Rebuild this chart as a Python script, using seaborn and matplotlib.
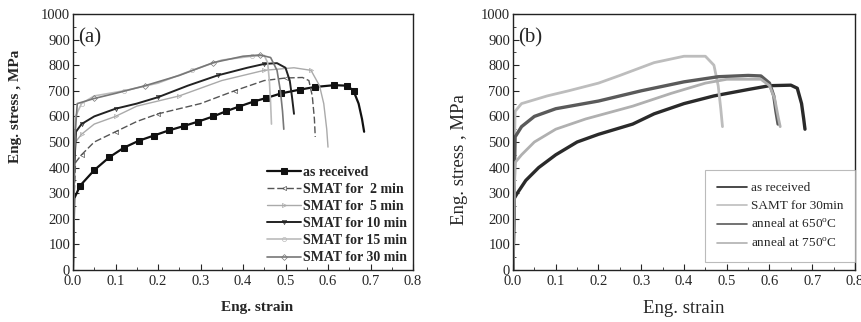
import matplotlib
matplotlib.use("Agg")
import matplotlib.pyplot as plt
import seaborn as sns
import pandas as pd
import numpy as np
from matplotlib.ticker import MultipleLocator

# ---------------- data ----------------
# Panel (a)
a_recv_x = [0.0, 0.003, 0.017, 0.05, 0.085, 0.12, 0.155, 0.19, 0.225, 0.26, 0.295, 0.33, 0.36, 0.39,
            0.425, 0.455, 0.49, 0.535, 0.57, 0.615, 0.645, 0.66, 0.672, 0.68, 0.685]
a_recv_y = [0, 280, 330, 390, 440, 478, 505, 525, 545, 562, 580, 600, 620, 638,
            658, 672, 690, 705, 715, 722, 720, 700, 650, 590, 540]

a_2_x = [0.0, 0.003, 0.006, 0.02, 0.05, 0.1, 0.15, 0.2, 0.3, 0.38, 0.45, 0.5, 0.54, 0.555, 0.563, 0.568, 0.57]
a_2_y = [0, 300, 420, 450, 500, 540, 580, 610, 650, 700, 740, 750, 752, 740, 680, 590, 520]

a_5_x = [0.0, 0.003, 0.006, 0.02, 0.05, 0.1, 0.15, 0.25, 0.35, 0.45, 0.52, 0.56, 0.58, 0.59, 0.597, 0.6]
a_5_y = [0, 350, 500, 530, 570, 600, 640, 680, 740, 780, 790, 780, 720, 650, 550, 480]

a_10_x = [0.0, 0.003, 0.007, 0.02, 0.05, 0.1, 0.15, 0.2, 0.27, 0.34, 0.41, 0.45, 0.48, 0.5, 0.51, 0.515, 0.52]
a_10_y = [0, 400, 540, 570, 600, 630, 650, 675, 720, 760, 790, 805, 808, 790, 740, 680, 610]

a_15_x = [0.0, 0.003, 0.006, 0.02, 0.05, 0.12, 0.2, 0.28, 0.35, 0.42, 0.45, 0.458, 0.462, 0.465, 0.467]
a_15_y = [0, 450, 600, 650, 680, 700, 730, 780, 820, 835, 838, 810, 740, 650, 570]

a_30_x = [0.0, 0.003, 0.01, 0.05, 0.1, 0.17, 0.25, 0.33, 0.4, 0.44, 0.465, 0.48, 0.488, 0.493, 0.496]
a_30_y = [0, 480, 650, 670, 690, 720, 760, 810, 835, 840, 830, 780, 700, 620, 550]

# Panel (b)
b_recv_x = [0.0, 0.003, 0.01, 0.03, 0.06, 0.1, 0.15, 0.2, 0.28, 0.33, 0.4, 0.47, 0.55, 0.6, 0.65, 0.665, 0.675, 0.68, 0.683]
b_recv_y = [0, 280, 300, 350, 400, 450, 500, 530, 570, 610, 650, 680, 705, 720, 722, 710, 650, 590, 550]

b_30_x = [0.0, 0.003, 0.005, 0.02, 0.08, 0.13, 0.2, 0.25, 0.33, 0.4, 0.45, 0.47, 0.48, 0.486, 0.49]
b_30_y = [0, 450, 620, 650, 680, 700, 730, 760, 810, 835, 835, 800, 720, 630, 560]

b_650_x = [0.0, 0.003, 0.005, 0.02, 0.05, 0.1, 0.2, 0.3, 0.4, 0.48, 0.55, 0.58, 0.6, 0.61, 0.615, 0.62]
b_650_y = [0, 350, 520, 560, 600, 630, 660, 700, 735, 755, 760, 758, 730, 680, 620, 570]

b_750_x = [0.0, 0.003, 0.005, 0.02, 0.05, 0.1, 0.17, 0.28, 0.37, 0.45, 0.5, 0.58, 0.6, 0.612, 0.62, 0.625]
b_750_y = [0, 300, 420, 450, 500, 550, 590, 640, 690, 730, 745, 745, 720, 670, 600, 560]

a_labels = ["as received", "SMAT for  2 min", "SMAT for  5 min", "SMAT for 10 min",
            "SMAT for 15 min", "SMAT for 30 min"]
b_labels = ["as received", "SAMT for 30min", "anneal at 650$^{\\rm o}$C", "anneal at 750$^{\\rm o}$C"]

x_ticks = [0.0, 0.1, 0.2, 0.3, 0.4, 0.5, 0.6, 0.7, 0.8]
y_ticks = [0, 100, 200, 300, 400, 500, 600, 700, 800, 900, 1000]

# ---------------- styling ----------------
sns.set_style("ticks")
plt.rcParams["font.family"] = ["Liberation Serif", "DejaVu Serif"]
plt.rcParams["mathtext.fontset"] = "custom"
plt.rcParams["mathtext.rm"] = "Liberation Serif"

fig = plt.figure(figsize=(8.62, 3.22), dpi=100)
ax_a = fig.add_axes([73/862, 1-270/322, 340/862, 256/322])
ax_b = fig.add_axes([513/862, 1-270/322, 342/862, 256/322])

a_series = [(a_recv_x, a_recv_y), (a_2_x, a_2_y), (a_5_x, a_5_y),
            (a_10_x, a_10_y), (a_15_x, a_15_y), (a_30_x, a_30_y)]
a_colors = ["#111111", "#555555", "#aaaaaa", "#222222", "#bbbbbb", "#777777"]
a_widths = [1.6, 1.0, 1.0, 1.4, 1.2, 1.2]
a_markers = ["s", "<", ">", "v", "o", "D"]
a_ls = ["-", (0, (5, 2)), "-", "-", "-", "-"]

for (xs, ys), lab, c, w, m, ls in zip(a_series, a_labels, a_colors, a_widths, a_markers, a_ls):
    df = pd.DataFrame({"x": xs, "y": ys})
    if m == "s":
        mk = dict(marker="s", markersize=4, markevery=list(range(2, len(xs) - 3)),
                  markerfacecolor=c, markeredgecolor=c)
    else:
        mk = dict(marker=m, markersize=3, markevery=list(range(3, len(xs) - 4, 2)),
                  markerfacecolor="none", markeredgecolor=c, markeredgewidth=0.5)
    sns.lineplot(data=df, x="x", y="y", ax=ax_a, color=c, linewidth=w, label=lab,
                 sort=False, estimator=None, linestyle=ls, **mk)

b_series = [(b_recv_x, b_recv_y), (b_30_x, b_30_y), (b_650_x, b_650_y), (b_750_x, b_750_y)]
b_colors = ["#2a2a2a", "#bdbdbd", "#5a5a5a", "#b0b0b0"]
b_widths = [2.4, 2.0, 2.4, 2.0]
for (xs, ys), lab, c, w in zip(b_series, b_labels, b_colors, b_widths):
    df = pd.DataFrame({"x": xs, "y": ys})
    sns.lineplot(data=df, x="x", y="y", ax=ax_b, color=c, linewidth=w, label=lab,
                 sort=False, estimator=None)

for ax in (ax_a, ax_b):
    ax.set_xlim(0, 0.8)
    ax.set_ylim(0, 1000)
    ax.set_xticks(x_ticks)
    ax.set_yticks(y_ticks)
    ax.set_xticklabels([f"{v:.1f}" for v in x_ticks])
    ax.set_yticklabels([str(v) for v in y_ticks])
    ax.xaxis.set_minor_locator(MultipleLocator(0.05))
    ax.yaxis.set_minor_locator(MultipleLocator(50))
    ax.tick_params(which="both", direction="in", top=False, right=False, labelsize=10.5)
    ax.tick_params(which="major", length=4, width=0.8)
    ax.tick_params(which="minor", length=2, width=0.6)
    ax.tick_params(axis="y", pad=2)
    for s in ax.spines.values():
        s.set_linewidth(1.0)
        s.set_color("#222222")

ax_a.set_xlabel("Eng. strain", fontsize=11, fontweight="bold")
ax_a.set_ylabel("Eng. stress , MPa", fontsize=11, fontweight="bold")
ax_a.xaxis.set_label_coords((257 - 73) / 340, (270 - 301) / 256)
ax_a.yaxis.set_label_coords((22 - 73) / 340, (270 - 106) / 256)
ax_b.set_xlabel("Eng. strain", fontsize=13.5)
ax_b.set_ylabel("Eng. stress , MPa", fontsize=13.5)
ax_b.xaxis.set_label_coords(0.5, (270 - 300) / 256)
ax_b.yaxis.set_label_coords((468 - 513) / 342, (270 - 160) / 256)

ax_a.text(0.015, 0.905, "(a)", transform=ax_a.transAxes, fontsize=15, va="center")
ax_b.text(0.015, 0.905, "(b)", transform=ax_b.transAxes, fontsize=15, va="center")

leg_a = ax_a.legend(loc="lower right", frameon=False, handlelength=2.4,
                    handletextpad=0.2, labelspacing=0.3, borderaxespad=0.0,
                    bbox_to_anchor=(1.0, 0.0), prop={"weight": "bold", "size": 10})
leg_b = ax_b.legend(loc="lower right", frameon=True, fancybox=False,
                    handlelength=2.3, handletextpad=0.3, labelspacing=0.45, borderaxespad=0.0,
                    bbox_to_anchor=(1.0, 8 / 256), borderpad=0.88, prop={"size": 9.5})
leg_b.get_frame().set_edgecolor("#aaaaaa")
leg_b.get_frame().set_linewidth(0.8)
for line in leg_b.get_lines():
    line.set_linewidth(1.2)

fig.savefig("out.png", dpi=100)
